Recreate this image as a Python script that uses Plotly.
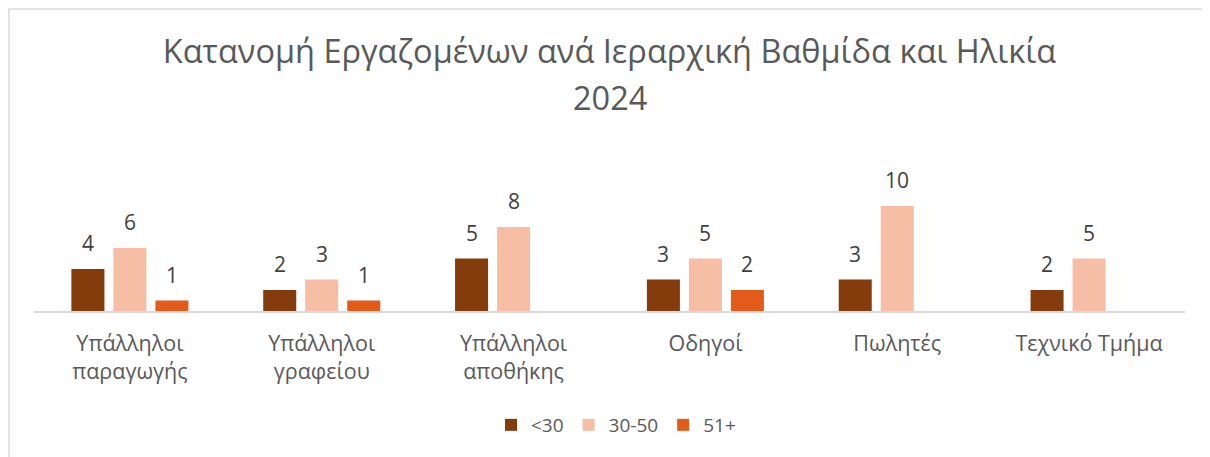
import plotly.graph_objects as go

categories = ["Υπάλληλοι<br>παραγωγής", "Υπάλληλοι<br>γραφείου", "Υπάλληλοι<br>αποθήκης",
              "Οδηγοί", "Πωλητές", "Τεχνικό Τμήμα"]
series_names = ["<30", "30-50", "51+"]
under_30 = [4, 2, 5, 3, 3, 2]
age_30_50 = [6, 3, 8, 5, 10, 5]
over_51 = [1, 1, None, 2, None, None]
colors = ["#843C0C", "#F5BEA5", "#E35B18"]
title_line1 = "Κατανομή Εργαζομένων ανά Ιεραρχική Βαθμίδα και Ηλικία"
title_line2 = "2024"

series_values = [under_30, age_30_50, over_51]

# page body has an 8px margin; figure sized to fit the window
OFF = 8
W, H = 1210 - OFF, 457 - OFF
L, R, T, B = 34 - OFF, 25, 185 - OFF, 146
plot_w = W - L - R
plot_h = H - T - B
font_family = "Open Sans, Noto Sans, sans-serif"


def px_x(x_screen):
    return (x_screen - 34) / plot_w


def px_y(y_screen):
    return (311 - y_screen) / plot_h


fig = go.Figure()
for name, vals, col in zip(series_names, series_values, colors):
    fig.add_trace(go.Bar(x=categories, y=vals, name=name, marker_color=col,
                         marker_line_width=0))

group_w = plot_w / len(categories)
slot = group_w * (1 - 0.343) / 3
annotations = []
for i, vals in enumerate(series_values):
    shift = (i - 1) * slot
    for c, v in zip(categories, vals):
        if v is None:
            continue
        annotations.append(dict(x=c, y=v, xref="x", yref="y", text=str(v), showarrow=False,
                                xshift=shift, yanchor="bottom", yshift=10,
                                font=dict(size=21, color="#404040", family=font_family)))

annotations.append(dict(x=0.5, y=px_y(97), xref="paper", yref="paper", text=title_line2,
                        showarrow=False, xanchor="center", yanchor="middle",
                        font=dict(size=32.5, color="#595959", family=font_family)))

fig.update_layout(
    width=W, height=H,
    margin=dict(l=L, r=R, t=T, b=B, autoexpand=False),
    paper_bgcolor="white", plot_bgcolor="white",
    barmode="group", bargap=0.343, bargroupgap=0.214,
    title=dict(text=title_line1, x=0.5, xanchor="center", xref="paper",
               y=1 - (52 - OFF) / H, yanchor="middle", yref="container",
               font=dict(size=32.5, color="#595959", family=font_family)),
    xaxis=dict(showgrid=False, showline=True, linecolor="#D9D9D9", linewidth=2,
               ticks="", tickfont=dict(size=21.5, color="#595959", family=font_family),
               ticklabelstandoff=12, automargin=False, fixedrange=True),
    yaxis=dict(range=[0, 12], visible=False, showgrid=False, zeroline=False,
               automargin=False),
    legend=dict(orientation="h", x=px_x(616), xanchor="center", y=px_y(425),
                yanchor="middle", font=dict(size=19, color="#595959", family=font_family),
                itemwidth=30, traceorder="normal"),
    annotations=annotations,
    shapes=[dict(type="rect", xref="paper", yref="paper",
                 x0=px_x(9), x1=px_x(1208),
                 y0=px_y(470), y1=px_y(9),
                 line=dict(color="#D9D9D9", width=1.5), fillcolor="rgba(0,0,0,0)", layer="below")],
)

fig.write_html("out.html")
